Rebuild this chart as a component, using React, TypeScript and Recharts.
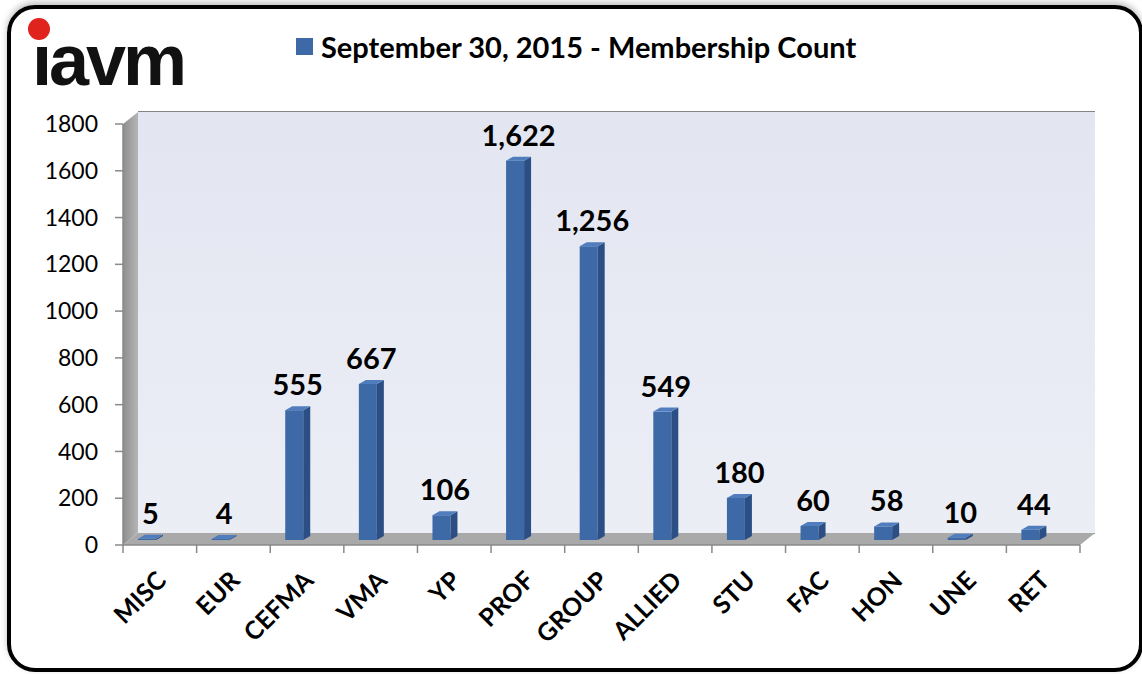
import React from "react";
import {
  BarChart,
  Bar,
  XAxis,
  YAxis,
  CartesianGrid,
  ReferenceArea,
  LabelList,
  Legend,
} from "recharts";

const categories = ["MISC", "EUR", "CEFMA", "VMA", "YP", "PROF", "GROUP", "ALLIED", "STU", "FAC", "HON", "UNE", "RET"];
const memberCounts = [5, 4, 555, 667, 106, 1622, 1256, 549, 180, 60, 58, 10, 44];
const yTicks = [0, 200, 400, 600, 800, 1000, 1200, 1400, 1600, 1800];
const seriesName = "September 30, 2015 - Membership Count";

const data = categories.map((category, i) => ({ category, count: memberCounts[i] }));

const FONT = "Lato, 'Open Sans', sans-serif";
const BLUE = "#3d69a7";
// fake 3D depth of the back wall and the bar offset
const DEPTH_X = 15;
const DEPTH_Y = 12;
const BAR_DX = -9;
const BAR_DY = -5;

const Walls = (props: any) => {
  const { x, y, width, height } = props;
  const bottom = y + height;
  return (
    <g>
      <defs>
        <linearGradient id="wallFill" x1="0" y1="0" x2="0" y2="1">
          <stop offset="0%" stopColor="#e3e6f1" />
          <stop offset="100%" stopColor="#eceef6" />
        </linearGradient>
        <linearGradient id="sideFill" x1="0" y1="0" x2="1" y2="0">
          <stop offset="0%" stopColor="#8e8e8e" />
          <stop offset="100%" stopColor="#b5b5b5" />
        </linearGradient>
      </defs>
      <rect x={x + DEPTH_X} y={y - DEPTH_Y} width={width} height={height} fill="url(#wallFill)" />
      <polygon
        points={`${x},${y} ${x + DEPTH_X},${y - DEPTH_Y} ${x + DEPTH_X},${bottom - DEPTH_Y} ${x},${bottom}`}
        fill="url(#sideFill)"
      />
      <polygon
        points={`${x},${bottom} ${x + width},${bottom} ${x + width + DEPTH_X},${bottom - DEPTH_Y} ${x + DEPTH_X},${bottom - DEPTH_Y}`}
        fill="#a9a9a9"
      />
    </g>
  );
};

const BackGridLine = (props: any) => {
  const { x1, y1, x2, y2 } = props;
  return (
    <line
      x1={x1 + DEPTH_X}
      y1={y1 - DEPTH_Y}
      x2={x2 + DEPTH_X}
      y2={y2 - DEPTH_Y}
      stroke="#858585"
      strokeWidth={2}
    />
  );
};

const Bar3D = (props: any) => {
  const { x, y, width, height } = props;
  const bx = x + BAR_DX;
  const by = y + BAR_DY;
  const front = width * 0.72;
  const d = 4;
  const h = Math.max(height, 1);
  return (
    <g>
      <rect x={bx} y={by} width={front} height={h} fill={BLUE} />
      <polygon
        points={`${bx + front},${by} ${bx + width},${by - d} ${bx + width},${by + h - d} ${bx + front},${by + h}`}
        fill="#2b4f84"
      />
      <polygon
        points={`${bx},${by} ${bx + front},${by} ${bx + width},${by - d} ${bx + width - front},${by - d}`}
        fill="#4f7dbd"
      />
    </g>
  );
};

const ValueLabel = (props: any) => {
  const { x, y, width, value } = props;
  return (
    <text
      x={x + width / 2 + BAR_DX}
      y={y - 20}
      textAnchor="middle"
      fontFamily={FONT}
      fontWeight="bold"
      fontSize={29}
      fill="#000"
    >
      {Number(value).toLocaleString("en-US")}
    </text>
  );
};

const CategoryTick = (props: any) => {
  const { x, y, payload, index } = props;
  const half = payload.offset ?? 0;
  return (
    <g>
      <line x1={x - half} y1={y - 10} x2={x - half} y2={y - 2} stroke="#8a8a8a" strokeWidth={1.5} />
      {index === categories.length - 1 && (
        <line x1={x + half} y1={y - 10} x2={x + half} y2={y - 2} stroke="#8a8a8a" strokeWidth={1.5} />
      )}
      <g transform={`translate(${x + 8},${y + 27}) rotate(-45)`}>
        <text x={0} y={0} textAnchor="end" fontFamily={FONT} fontWeight="bold" fontSize={25} fill="#000">
          {payload.value}
        </text>
      </g>
    </g>
  );
};

const LegendBox = () => (
  <div style={{ display: "flex", alignItems: "center", fontFamily: FONT, whiteSpace: "nowrap" }}>
    <span style={{ display: "inline-block", width: 17, height: 17, background: BLUE, marginRight: 8 }} />
    <span style={{ fontWeight: "bold", fontSize: 29, color: "#000" }}>{seriesName}</span>
  </div>
);

export default function App() {
  return (
    <div style={{ position: "absolute", left: 0, top: 0, width: 1142, height: 674, background: "#fff", overflow: "hidden" }}>
      <div
        style={{
          position: "absolute",
          left: 7,
          top: 5,
          width: 1136,
          height: 667,
          boxSizing: "border-box",
          border: "4px solid #000",
          borderRadius: 28,
          boxShadow: "0 -3px 6px rgba(0,0,0,0.25)",
        }}
      />
      <div style={{ position: "absolute", left: 28, top: 18, width: 22, height: 22, borderRadius: "50%", background: "#e0231d" }} />
      <div
        style={{
          position: "absolute",
          left: 32,
          top: 24,
          fontFamily: "'Liberation Sans', sans-serif",
          fontWeight: 900,
          fontSize: 72,
          lineHeight: "72px",
          letterSpacing: -3,
          color: "#111",
        }}
      >
        ıavm
      </div>
      <div style={{ position: "absolute", left: 0, top: 0 }}>
        <BarChart width={1142} height={674} data={data} margin={{ top: 124, right: 62, left: 43, bottom: 29 }} barSize={25}>
          <ReferenceArea y1={0} y2={1800} shape={(p: any) => <Walls {...p} />} />
          <CartesianGrid vertical={false} horizontal={(p: any) => <BackGridLine key={p.key} {...p} />} />
          <XAxis
            dataKey="category"
            interval={0}
            height={100}
            tick={<CategoryTick />}
            tickLine={false}
            tickSize={8}
            axisLine={{ stroke: "#8a8a8a", strokeWidth: 1.5 }}
          />
          <YAxis
            width={80}
            domain={[0, 1800]}
            ticks={yTicks}
            interval={0}
            tickSize={8}
            tickMargin={17}
            axisLine={{ stroke: "#8a8a8a", strokeWidth: 1.5 }}
            tickLine={{ stroke: "#8a8a8a", strokeWidth: 1.5 }}
            tick={{ fontFamily: FONT, fontSize: 23, fill: "#000" }}
          />
          <Legend
            layout="horizontal"
            verticalAlign="middle"
            content={<LegendBox />}
            wrapperStyle={{ position: "absolute", left: 296, top: 29, width: "auto" }}
          />
          <Bar dataKey="count" name={seriesName} fill={BLUE} shape={<Bar3D />} isAnimationActive={false}>
            <LabelList dataKey="count" content={<ValueLabel />} />
          </Bar>
        </BarChart>
      </div>
    </div>
  );
}
